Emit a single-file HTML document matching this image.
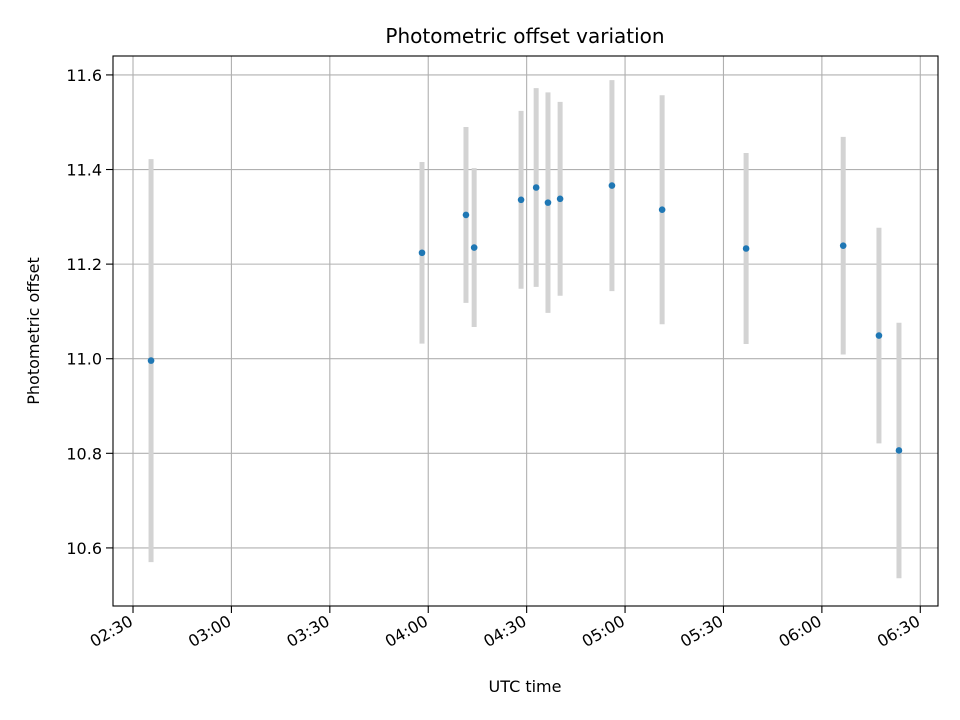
<!DOCTYPE html>
<html><head><meta charset="utf-8"><style>
body{margin:0;background:#fff}
svg{display:block;font-family:"DejaVu Sans","Liberation Sans",sans-serif}
</style></head><body>
<svg id="chart" width="960" height="720" viewBox="0 0 960 720">
<rect width="960" height="720" fill="#fff"/>
<g id="grid"></g>
<g id="bars"></g>
<g id="pts"></g>
<rect x="113" y="56" width="825" height="550" fill="none" stroke="#000" stroke-width="1.1"/>
<g id="axes"></g>
<text x="525" y="43" text-anchor="middle" font-size="20">Photometric offset variation</text>
<text x="525" y="692" text-anchor="middle" font-size="16">UTC time</text>
<text transform="translate(39,331) rotate(-90)" text-anchor="middle" font-size="16">Photometric offset</text>
</svg>
<script>
const times = ["02:35:30","03:58:06","04:11:30","04:14:00","04:28:18","04:32:54","04:36:30","04:40:12","04:56:00","05:11:18","05:36:54","06:06:30","06:17:24","06:23:30"];
const offsets = [10.996,11.224,11.304,11.235,11.336,11.362,11.330,11.338,11.366,11.315,11.233,11.239,11.049,10.806];
const errors = [0.426,0.192,0.186,0.168,0.188,0.21,0.233,0.205,0.223,0.242,0.202,0.23,0.228,0.27];
const yTicks = [10.6,10.8,11.0,11.2,11.4,11.6];
const xTicks = ["02:30","03:00","03:30","04:00","04:30","05:00","05:30","06:00","06:30"];

const NS="http://www.w3.org/2000/svg";
function toMin(s){const p=s.split(":").map(Number);return p[0]*60+p[1]+(p[2]||0)/60;}
const L=113,R=938,T=56,B=606;
const xMin=toMin("02:23:54"), xMax=toMin("06:35:24");
const yMin=10.4772, yMax=11.6400;
function xs(s){return L+(toMin(s)-xMin)/(xMax-xMin)*(R-L);}
function ys(v){return B-(v-yMin)/(yMax-yMin)*(B-T);}
function mk(tag,attrs,parent){const e=document.createElementNS(NS,tag);for(const k in attrs)e.setAttribute(k,attrs[k]);parent.appendChild(e);return e;}
const grid=document.getElementById('grid'),axes=document.getElementById('axes'),bars=document.getElementById('bars'),pts=document.getElementById('pts');
yTicks.forEach(v=>{const y=ys(v);
 const g=mk('line',{x1:L,x2:R,y1:y,y2:y,stroke:'#b0b0b0','stroke-width':1.1},grid);
 
 
 const t=mk('line',{x1:L-7,x2:L,y1:y,y2:y,stroke:'#000','stroke-width':1.1},axes);
 
 
 const tx=mk('text',{x:L-11,y:y+6,'text-anchor':'end','font-size':16},axes);tx.textContent=v.toFixed(1);
 
 
});
xTicks.forEach(s=>{const x=xs(s);
 const g=mk('line',{x1:x,x2:x,y1:T,y2:B,stroke:'#b0b0b0','stroke-width':1.1},grid);
 
 
 const t=mk('line',{x1:x,x2:x,y1:B,y2:B+7,stroke:'#000','stroke-width':1.1},axes);
 
 
 const tx=mk('text',{transform:`translate(${x-5},${B+8}) rotate(-30)`,x:0,y:12,'text-anchor':'end','font-size':16},axes);tx.textContent=s;
 
 
});
times.forEach((s,i)=>{const x=xs(s);
 const b=mk('line',{x1:x,x2:x,y1:ys(offsets[i]+errors[i]),y2:ys(offsets[i]-errors[i]),stroke:'#d3d3d3','stroke-width':5},bars);
 
 
 const c=mk('circle',{cx:x,cy:ys(offsets[i]),r:3.3,fill:'#1f77b4'},pts);
 
 
});
</script>
</body></html>
